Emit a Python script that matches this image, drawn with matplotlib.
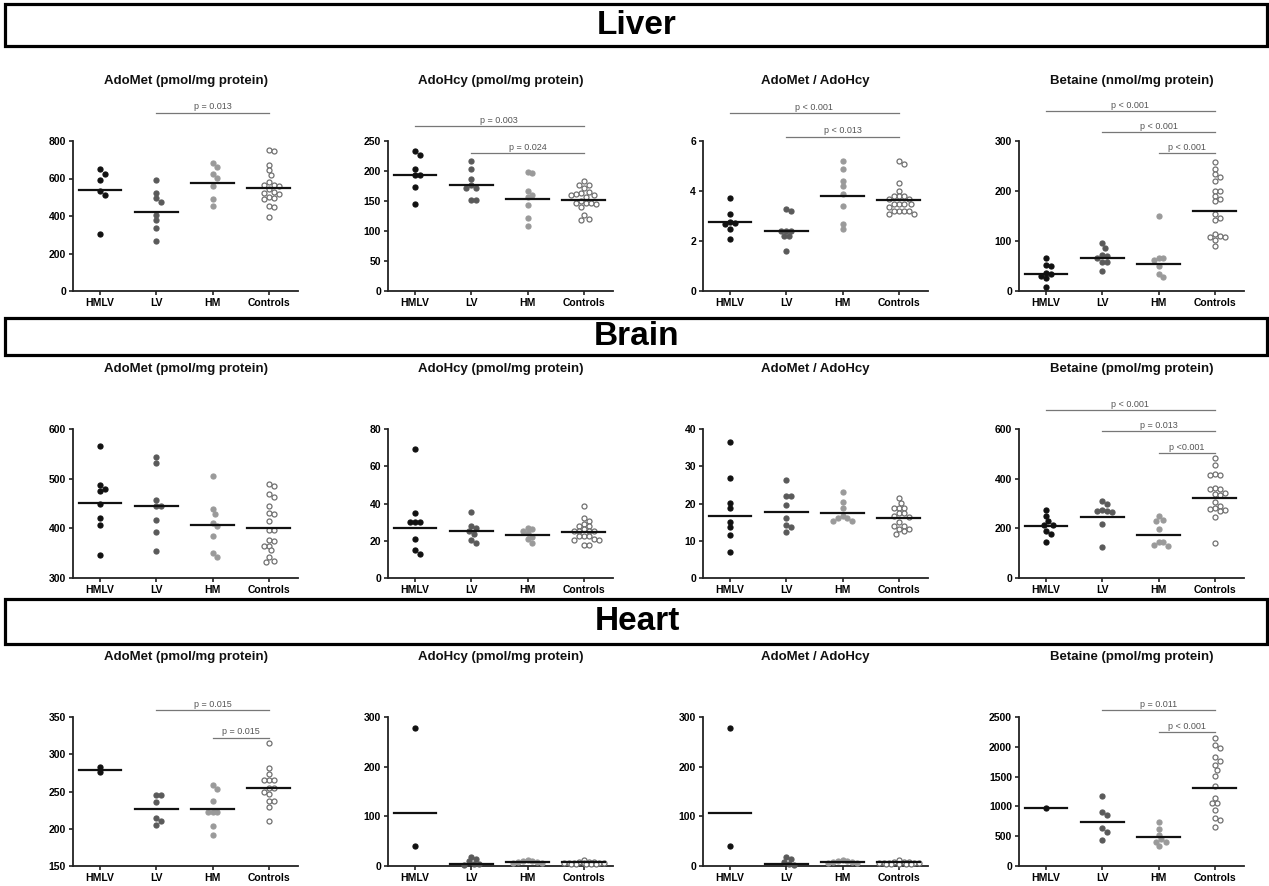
import numpy as np
import matplotlib
matplotlib.use("Agg")
import matplotlib.pyplot as plt
from matplotlib.patches import Rectangle

plt.rcParams['font.family'] = ['Liberation Sans', 'DejaVu Sans']

groups = ['HMLV', 'LV', 'HM', 'Controls']

# ---- Liver ----
liver_adomet = [[649, 626, 592, 535, 514, 302],
                [594, 523, 496, 476, 407, 377, 334, 268],
                [683, 661, 626, 604, 560, 492, 453],
                [752, 748, 674, 645, 620, 580, 568, 565, 560, 545, 528, 525, 520, 500, 495, 492, 452, 450, 395]]
liver_adomet_mean = [537, 421, 578, 549]

liver_adohcy = [[233, 227, 204, 193, 193, 174, 145],
                [216, 203, 187, 176, 171, 171, 151, 151],
                [198, 196, 167, 160, 157, 143, 121, 108],
                [183, 176, 176, 171, 165, 163, 162, 160, 160, 156, 150, 147, 146, 146, 145, 140, 126, 120, 118]]
liver_adohcy_mean = [194, 176, 153, 151]

liver_ratio = [[3.72, 3.1, 2.78, 2.72, 2.7, 2.5, 2.08],
               [3.3, 3.2, 2.4, 2.4, 2.4, 2.2, 2.2, 1.6],
               [5.2, 4.9, 4.4, 4.2, 3.9, 3.4, 2.7, 2.5],
               [5.2, 5.1, 4.32, 4.01, 3.8, 3.8, 3.8, 3.68, 3.68, 3.5, 3.5, 3.5, 3.5, 3.38, 3.2, 3.2, 3.2, 3.2, 3.09, 3.09]]
liver_ratio_mean = [2.78, 2.4, 3.81, 3.66]

liver_betaine = [[66, 53, 50, 37, 35, 31, 27, 8],
                 [96, 87, 72, 70, 67, 58, 58, 41],
                 [150, 67, 66, 62, 50, 35, 28],
                 [259, 244, 234, 229, 220, 200, 200, 190, 185, 180, 155, 147, 142, 115, 110, 108, 108, 103, 90]]
liver_betaine_mean = [34, 66, 55, 161]

# ---- Brain ----
brain_adomet = [[566, 487, 480, 476, 449, 420, 407, 347],
                [543, 531, 457, 444, 444, 416, 392, 355],
                [506, 439, 429, 410, 405, 385, 350, 343],
                [489, 485, 469, 464, 444, 431, 429, 414, 397, 397, 376, 374, 365, 364, 356, 342, 335, 333]]
brain_adomet_mean = [451, 444, 406, 400]

brain_adohcy = [[69.3, 34.8, 30, 30, 30, 21, 15, 13],
                [35.7, 28, 26.8, 25.5, 23.8, 20.5, 18.8],
                [27, 26.5, 25.5, 24, 22, 21, 19],
                [38.8, 32, 30.4, 29, 28, 27.7, 26.2, 25, 25, 25, 25, 22.3, 22.3, 22.3, 20.9, 20.5, 20.2, 17.9, 17.9]]
brain_adohcy_mean = [26.8, 25, 23.2, 24.6]

brain_ratio = [[36.6, 26.8, 20.1, 18.7, 15.1, 13.6, 11.5, 7],
               [26.3, 22.1, 22.1, 19.7, 16.1, 14.3, 13.8, 12.3],
               [23, 20.3, 18.8, 16.7, 16.1, 16, 15.4, 15.4],
               [21.4, 20.1, 18.9, 18.9, 18.9, 17.4, 17.4, 16.7, 16.3, 14.9, 14, 14, 13.1, 13.1, 12.5, 11.9]]
brain_ratio_mean = [16.7, 17.8, 17.4, 16.1]

brain_betaine = [[274, 248, 230, 214, 214, 190, 178, 143],
                 [312, 297, 275, 270, 268, 265, 218, 125],
                 [248, 232, 228, 199, 143, 143, 134, 130],
                 [482, 455, 419, 415, 415, 362, 358, 358, 344, 339, 335, 308, 291, 281, 277, 275, 268, 245, 141]]
brain_betaine_mean = [208, 245, 174, 321]

# ---- Heart ----
heart_adomet = [[283, 276],
                [245, 245, 236, 214, 211, 205],
                [259, 254, 237, 223, 223, 223, 204, 191],
                [315, 282, 273, 266, 265, 266, 255, 255, 250, 246, 237, 237, 229, 211]]
heart_adomet_mean = [279.5, 226, 226, 255]

heart_adohcy = [[278, 40],
                [19, 15, 10, 5, 4, 3],
                [12, 11, 10, 9, 8, 7, 6],
                [12, 9, 8, 8, 7, 7, 7, 6, 6, 6, 5, 5, 5, 4, 4]]
heart_adohcy_mean = [107, 5, 8.7, 7.4]

heart_ratio = [[278, 40],
               [18, 15, 8, 5, 3],
               [12, 11, 10, 9, 8, 7, 6],
               [12, 9, 8, 8, 7, 7, 6, 6, 6, 5, 5, 5, 4, 4]]
heart_ratio_mean = [107, 5, 8.7, 7.4]

heart_betaine = [[965],
                 [1172, 910, 854, 631, 575, 435],
                 [742, 620, 520, 446, 410, 400, 335],
                 [2148, 2026, 1987, 1830, 1763, 1691, 1618, 1512, 1345, 1133, 1060, 1049, 937, 798, 770, 658]]
heart_betaine_mean = [965, 731, 491, 1311]

# panel specs: data, means, title, ylim, ticks, p-value bars (from, to, y in axes fraction, label)
panels = [
    [(liver_adomet, liver_adomet_mean, 'AdoMet (pmol/mg protein)', (0, 800), [0, 200, 400, 600, 800],
      [(1, 3, 1.189, 'p = 0.013')]),
     (liver_adohcy, liver_adohcy_mean, 'AdoHcy (pmol/mg protein)', (0, 250), [0, 50, 100, 150, 200, 250],
      [(0, 3, 1.10, 'p = 0.003'), (1, 3, 0.922, 'p = 0.024')]),
     (liver_ratio, liver_ratio_mean, 'AdoMet / AdoHcy', (0, 6), [0, 2, 4, 6],
      [(0, 3, 1.185, 'p < 0.001'), (1, 3, 1.029, 'p < 0.013')]),
     (liver_betaine, liver_betaine_mean, 'Betaine (nmol/mg protein)', (0, 300), [0, 100, 200, 300],
      [(0, 3, 1.20, 'p < 0.001'), (1, 3, 1.058, 'p < 0.001'), (2, 3, 0.918, 'p < 0.001')])],
    [(brain_adomet, brain_adomet_mean, 'AdoMet (pmol/mg protein)', (300, 600), [300, 400, 500, 600], []),
     (brain_adohcy, brain_adohcy_mean, 'AdoHcy (pmol/mg protein)', (0, 80), [0, 20, 40, 60, 80], []),
     (brain_ratio, brain_ratio_mean, 'AdoMet / AdoHcy', (0, 40), [0, 10, 20, 30, 40], []),
     (brain_betaine, brain_betaine_mean, 'Betaine (pmol/mg protein)', (0, 600), [0, 200, 400, 600],
      [(0, 3, 1.127, 'p < 0.001'), (1, 3, 0.987, 'p = 0.013'), (2, 3, 0.837, 'p <0.001')])],
    [(heart_adomet, heart_adomet_mean, 'AdoMet (pmol/mg protein)', (150, 350), [150, 200, 250, 300, 350],
      [(1, 3, 1.045, 'p = 0.015'), (2, 3, 0.862, 'p = 0.015')]),
     (heart_adohcy, heart_adohcy_mean, 'AdoHcy (pmol/mg protein)', (0, 300), [0, 100, 200, 300], []),
     (heart_ratio, heart_ratio_mean, 'AdoMet / AdoHcy', (0, 300), [0, 100, 200, 300], []),
     (heart_betaine, heart_betaine_mean, 'Betaine (pmol/mg protein)', (0, 2500), [0, 500, 1000, 1500, 2000, 2500],
      [(1, 3, 1.049, 'p = 0.011'), (2, 3, 0.90, 'p < 0.001')])],
]
row_names = ['Liver', 'Brain', 'Heart']

W, H = 1269, 886
row_tb = [(141, 291), (429, 578), (717, 866)]
col_left = [73, 388, 703, 1019]
axw = 225
boxes = [(4, 46), (318, 355), (599, 644)]

colors = ['#111111', '#5a5a5a', '#9a9a9a', 'white']
edges = ['#111111', '#5a5a5a', '#9a9a9a', '#707070']


def swarm(vals, ypx, xpx=56.3, d=5.0, maxw=0.42):
    # simple beeswarm: push points sideways until they stop overlapping
    vals = np.asarray(vals, float)
    y = vals * ypx
    order = np.argsort(-vals, kind='stable')
    cands = [0.0]
    for k in range(1, 30):
        cands += [k * d / 2, -k * d / 2]
    placed = []
    xs = np.zeros(len(vals))
    for i in order:
        best, score = 0.0, -1
        for c in cands:
            if abs(c) > maxw * xpx:
                continue
            md = min([np.hypot(c - px, y[i] - py) for px, py in placed], default=1e9)
            if md >= d:
                best = c
                break
            if md > score:
                best, score = c, md
        xs[i] = best / xpx
        placed.append((best, y[i]))
    return xs


fig = plt.figure(figsize=(W / 100, H / 100), dpi=100)

for r in range(3):
    top, bot = boxes[r]
    fig.patches.append(Rectangle((5 / W, 1 - bot / H), (1267 - 5) / W, (bot - top) / H,
                                 transform=fig.transFigure, fill=False, lw=2.3, ec='black'))
    fig.text(0.502, 1 - (top + bot) / 2 / H, row_names[r], ha='center', va='center',
             fontsize=24, fontweight='bold')
    t, b = row_tb[r]
    for c in range(4):
        data, means, title, ylim, ticks, pbars = panels[r][c]
        ax = fig.add_axes([col_left[c] / W, 1 - b / H, axw / W, (b - t) / H])
        ypx = (b - t) / (ylim[1] - ylim[0])
        for g in range(4):
            offs = swarm(data[g], ypx)
            ax.plot(g + offs, data[g], 'o', ls='none', ms=3.6, mfc=colors[g], mec=edges[g],
                    mew=0.9, clip_on=False, zorder=3)
            ax.plot([g - 0.38, g + 0.38], [means[g], means[g]], color='#111111', lw=1.6, zorder=4)
        ax.set_xlim(-0.48, 3.52)
        ax.set_ylim(*ylim)
        ax.set_yticks(ticks)
        ax.set_xticks(range(4))
        ax.set_xticklabels(groups)
        for s in ['top', 'right']:
            ax.spines[s].set_visible(False)
        for s in ['left', 'bottom']:
            ax.spines[s].set_linewidth(1.3)
            ax.spines[s].set_color('#222222')
        ax.tick_params(axis='both', length=3, width=1.2, color='#222222', labelsize=7.5, pad=2)
        for lab in ax.get_xticklabels() + ax.get_yticklabels():
            lab.set_fontweight('bold')
        ax.set_title(title, fontsize=9.5, fontweight='bold', pad=41, color='#111111')
        tr = ax.get_xaxis_transform()
        for x0, x1, yy, lab in pbars:
            ax.plot([x0, x1], [yy, yy], color='#777777', lw=0.9, transform=tr, clip_on=False)
            ax.text((x0 + x1) / 2, yy + 0.008, lab, transform=tr, ha='center', va='bottom',
                    fontsize=6.5, color='#555555')

fig.savefig('out.png', dpi=100)
